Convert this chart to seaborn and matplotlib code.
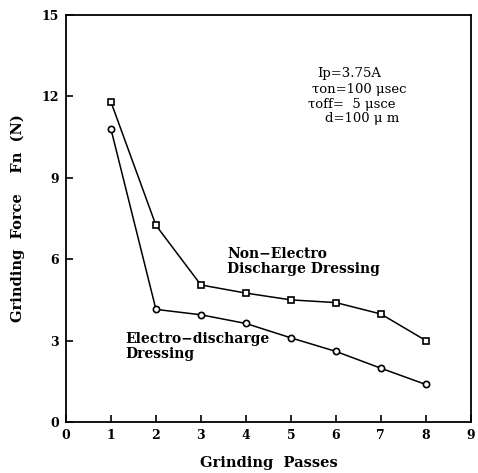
import matplotlib
matplotlib.use("Agg")
import matplotlib.pyplot as plt
import seaborn as sns
import pandas as pd

passes = [1, 2, 3, 4, 5, 6, 7, 8]
non_electro = [11.8, 7.25, 5.05, 4.75, 4.5, 4.4, 3.98, 3.0]
electro = [10.8, 4.15, 3.95, 3.63, 3.1, 2.6, 1.98, 1.38]
xticks = [0, 1, 2, 3, 4, 5, 6, 7, 8, 9]
yticks = [0, 3, 6, 9, 12, 15]

sns.set_theme(style="white")
plt.rcParams['font.family'] = ['DejaVu Serif']
plt.rcParams['mathtext.fontset'] = 'dejavuserif'
plt.rcParams['text.color'] = 'black'
plt.rcParams['axes.labelcolor'] = 'black'

df = pd.DataFrame({
    "passes": passes * 2,
    "force": non_electro + electro,
    "series": ["Non-Electro"] * len(passes) + ["Electro"] * len(passes),
})

fig = plt.figure(figsize=(4.78, 4.73), dpi=100)
ax = fig.add_axes([0.138, 0.108, 0.847, 0.860])

sns.lineplot(data=df, x="passes", y="force", hue="series", style="series",
             palette={"Non-Electro": "black", "Electro": "black"},
             markers={"Non-Electro": "s", "Electro": "o"},
             dashes={"Non-Electro": "", "Electro": ""},
             markersize=4.5, markerfacecolor="white", markeredgecolor="black",
             markeredgewidth=1.2, linewidth=1.1, legend=False, ax=ax)

ax.set_xlim(0, 9)
ax.set_ylim(0, 15)
ax.set_xticks(xticks)
ax.set_yticks(yticks)
ax.tick_params(direction="in", length=5, width=1.2, colors="black",
               labelsize=9, bottom=True, left=True, top=False, right=False,
               pad=5)
for lab in ax.get_xticklabels() + ax.get_yticklabels():
    lab.set_fontweight("bold")
for s in ax.spines.values():
    s.set_color("black")
    s.set_linewidth(1.3)

ax.set_xlabel("Grinding  Passes", fontsize=10.5, fontweight="bold", labelpad=10,
              color="black")
ax.set_ylabel("Grinding  Force    Fn  (N)", fontsize=10.5, fontweight="bold",
              labelpad=12, color="black")

ax.text(5.58, 12.83, "Ip=3.75A", fontsize=9.5, va="center", ha="left", color="black")
ax.text(5.47, 12.27, "\u03c4on=100 \u03bcsec", fontsize=9.5, va="center", ha="left", color="black")
ax.text(5.38, 11.72, "\u03c4off=  5 \u03bcsce", fontsize=9.5, va="center", ha="left", color="black")
ax.text(5.76, 11.18, "d=100 \u03bc m", fontsize=9.5, va="center", ha="left", color="black")

ax.text(3.58, 6.45, "Non\u2212Electro\nDischarge Dressing", fontsize=10,
        fontweight="bold", va="top", ha="left", linespacing=1.05, color="black")
ax.text(1.33, 3.3, "Electro\u2212discharge\nDressing", fontsize=10,
        fontweight="bold", va="top", ha="left", linespacing=1.05, color="black")

fig.savefig("out.png", dpi=100)
